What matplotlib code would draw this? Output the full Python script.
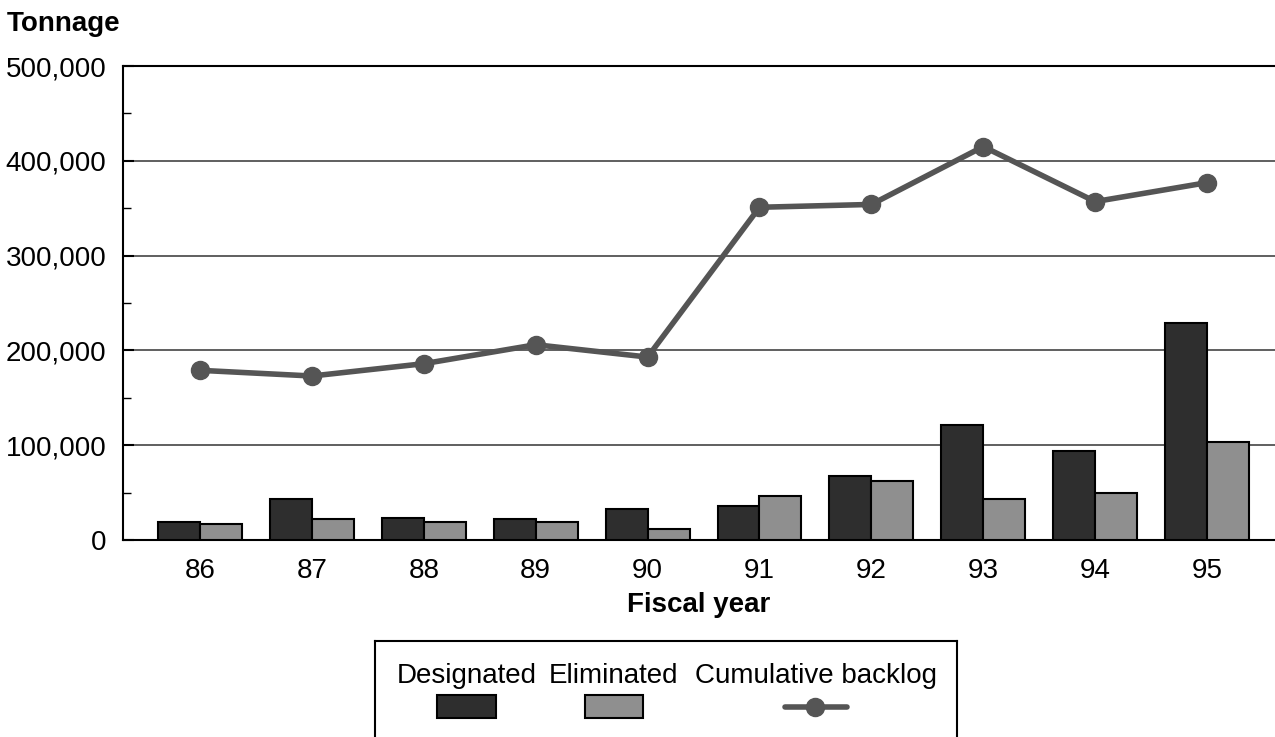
import matplotlib.pyplot as plt
import numpy as np
from matplotlib.patches import Rectangle
from matplotlib.lines import Line2D
from matplotlib.ticker import FuncFormatter, MultipleLocator

plt.rcParams['font.family'] = ['Liberation Sans', 'DejaVu Sans']

years = ['86', '87', '88', '89', '90', '91', '92', '93', '94', '95']
designated = [19000, 43000, 23000, 22000, 33000, 36000, 67000, 121000, 94000, 229000]
eliminated = [17000, 22500, 19000, 19000, 12000, 46000, 62000, 43000, 50000, 103000]
backlog = [179000, 173000, 186000, 206000, 193000, 351000, 354000, 415000, 357000, 377000]

dark = '#2e2e2e'
light = '#8f8f8f'
line_col = '#555555'

fig = plt.figure(figsize=(12.75, 7.37), dpi=100)
ax = fig.add_axes([0.0965, 0.2673, 0.9035, 0.6431])

x = np.arange(len(years))
w = 0.375
ax.bar(x - w / 2, designated, w, color=dark, edgecolor='black', linewidth=1.5, zorder=3)
ax.bar(x + w / 2, eliminated, w, color=light, edgecolor='black', linewidth=1.5, zorder=3)
ax.plot(x, backlog, color=line_col, linewidth=4, marker='o', markersize=13,
        zorder=4, solid_capstyle='round')

ax.set_ylim(0, 500000)
ax.set_xlim(-0.688, 9.607)
ax.yaxis.set_major_locator(MultipleLocator(100000))
ax.yaxis.set_minor_locator(MultipleLocator(50000))
ax.yaxis.set_major_formatter(FuncFormatter(lambda v, p: f'{int(v):,}'))
ax.yaxis.grid(True, which='major', color='#444444', linewidth=1.2, zorder=1)
ax.tick_params(axis='y', which='major', direction='in', length=8, width=1.5,
               labelsize=20, pad=12)
ax.tick_params(axis='y', which='minor', direction='in', length=6, width=1)
ax.set_xticks(x)
ax.set_xticklabels(years)
ax.tick_params(axis='x', length=0, labelsize=20, pad=13)

for s in ['left', 'top', 'bottom']:
    ax.spines[s].set_linewidth(1.5)
    ax.spines[s].set_color('black')
ax.spines['right'].set_visible(False)

ax.set_xlabel('Fiscal year', fontsize=20, fontweight='bold', labelpad=6)
fig.text(0.005, 0.968, 'Tonnage', fontsize=20, fontweight='bold', va='center', ha='left')

# legend box
lax = fig.add_axes([0.2941, -0.05, 0.4565, 0.18])
lax.set_xlim(375, 957)
lax.set_ylim(737 + 0.05 * 737, 641)
lax.set_xticks([])
lax.set_yticks([])
lax.spines['bottom'].set_visible(False)
for s in ['left', 'right', 'top']:
    lax.spines[s].set_linewidth(1.5)
lax.patch.set_alpha(0)

lax.text(467, 676, 'Designated', fontsize=20, ha='center', va='center')
lax.text(614, 676, 'Eliminated', fontsize=20, ha='center', va='center')
lax.text(816, 676, 'Cumulative backlog', fontsize=20, ha='center', va='center')
lax.add_patch(Rectangle((437, 695), 59, 23, facecolor=dark, edgecolor='black', linewidth=1.5))
lax.add_patch(Rectangle((585, 695), 58, 23, facecolor=light, edgecolor='black', linewidth=1.5))
lax.add_line(Line2D([785, 847], [707, 707], color=line_col, linewidth=4, solid_capstyle='round'))
lax.add_line(Line2D([815], [707], color=line_col, marker='o', markersize=13))

fig.savefig('out.png', dpi=100)
